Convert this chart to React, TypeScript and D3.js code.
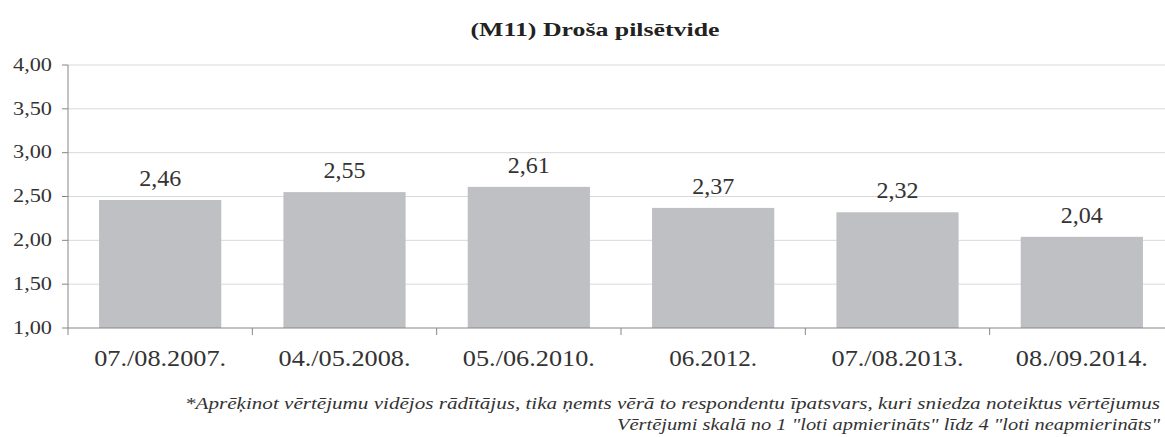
import React from 'react';
import * as d3 from 'd3';

const categories = ['07./08.2007.', '04./05.2008.', '05./06.2010.', '06.2012.', '07./08.2013.', '08./09.2014.'];
const values = [2.46, 2.55, 2.61, 2.37, 2.32, 2.04];
const yTicks = [1, 1.5, 2, 2.5, 3, 3.5, 4];
const title = '(M11) Droša pilsētvide';
const notes = [
  '*Aprēķinot vērtējumu vidējos rādītājus, tika ņemts vērā to respondentu īpatsvars, kuri sniedza noteiktus vērtējumus',
  'Vērtējumi skalā no 1 "loti apmierināts" līdz 4 "loti neapmierināts"',
];

const fmt = (v: number) => v.toFixed(2).replace('.', ',');

export default function App() {
  const width = 1165;
  const height = 437;
  const left = 68;
  const right = 1174;
  const top = 65;
  const bottom = 328;

  // band layout: ticks every ~184px, bars ~122px wide
  const x = d3.scaleBand<string>().domain(categories).range([left, right]).paddingInner(0.337).paddingOuter(0.1685);
  const y = d3.scaleLinear().domain([1, 4]).range([bottom, top]);
  const step = x.step();
  const font = '"Liberation Serif", Tinos, "Times New Roman", Times, serif';
  const ts = { fontFamily: font };

  return (
    <svg width={width} height={height} style={{ position: 'absolute', left: 0, top: 0, background: '#fff', fontFamily: font }}>
      <text x={595} y={36} textAnchor="middle" fontSize={19} fontWeight="bold" fill="#222"
        textLength={249} lengthAdjust="spacingAndGlyphs" style={ts}>{title}</text>
      {yTicks.map(t => (
        <g key={t}>
          {t > 1 && <line x1={left} x2={width} y1={y(t)} y2={y(t)} stroke="#d9d9d9" strokeWidth={1} />}
          <line x1={left - 6} x2={left} y1={y(t)} y2={y(t)} stroke="#868686" />
          <text x={52} y={y(t)} dy="0.3em" textAnchor="end" fontSize={19} fill="#333"
            textLength={39} lengthAdjust="spacingAndGlyphs" style={ts}>{fmt(t)}</text>
        </g>
      ))}
      {categories.map((c, i) => {
        const cx = (x(c) as number) + x.bandwidth() / 2;
        return (
          <g key={c}>
            <rect x={x(c)} y={y(values[i])} width={x.bandwidth()} height={bottom - y(values[i])} fill="#bfc0c4" />
            <text x={cx} y={y(values[i]) - 14} textAnchor="middle" fontSize={23} fill="#333"
              textLength={42} lengthAdjust="spacingAndGlyphs" style={ts}>{fmt(values[i])}</text>
            <text x={cx} y={366} textAnchor="middle" fontSize={23} fill="#333"
              textLength={11 * c.length} lengthAdjust="spacingAndGlyphs" style={ts}>{c}</text>
          </g>
        );
      })}
      {d3.range(categories.length + 1).map(i => (
        <line key={i} x1={left + i * step} x2={left + i * step} y1={bottom} y2={bottom + 7} stroke="#868686" />
      ))}
      <line x1={left} x2={left} y1={top} y2={bottom} stroke="#868686" />
      <line x1={left} x2={width} y1={bottom} y2={bottom} stroke="#868686" />
      {notes.map((n, i) => (
        <text key={i} x={1160} y={409 + i * 21} textAnchor="end" fontSize={17} fontStyle="italic" fill="#333"
          textLength={i === 0 ? 975 : 543} lengthAdjust="spacingAndGlyphs" style={ts}>{n}</text>
      ))}
    </svg>
  );
}
